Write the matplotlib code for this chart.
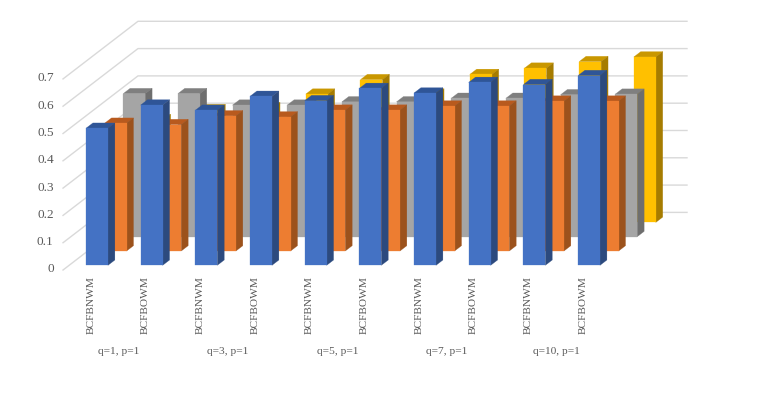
import matplotlib
matplotlib.use("Agg")
import matplotlib.pyplot as plt
from matplotlib.patches import Polygon

methods = ["BCFBNWM", "BCFBOWM"] * 5
groups = ["q=1, p=1", "q=3, p=1", "q=5, p=1", "q=7, p=1", "q=10, p=1"]
yticks = [0, 0.1, 0.2, 0.3, 0.4, 0.5, 0.6, 0.7]

# front to back
blue = [0.502, 0.587, 0.568, 0.619, 0.603, 0.648, 0.631, 0.670, 0.662, 0.695]
orange = [0.468, 0.463, 0.495, 0.491, 0.516, 0.516, 0.531, 0.531, 0.549, 0.549]
gray = [0.524, 0.524, 0.482, 0.482, 0.494, 0.494, 0.507, 0.507, 0.520, 0.522]
yellow = [0.376, 0.413, 0.420, 0.470, 0.523, 0.470, 0.542, 0.565, 0.589, 0.606]

series = [blue, orange, gray, yellow]
front_cols = ["#4472C4", "#ED7D31", "#A5A5A5", "#FFC000"]
side_cols = ["#2C4A7E", "#9C521C", "#6E6E6E", "#A67C00"]
top_cols = ["#2F5597", "#B85A1E", "#7F7F7F", "#C99700"]

# oblique projection, one depth step moves this far in data units
dx = 18.6 / 54.67
dy = 14.3 / 273
bar_w = 22 / 54.67
bar_d = 0.37


def proj(x, v, d):
    return x + d * dx, v + d * dy


def quad(ax, pts, col, z):
    ax.add_patch(Polygon([proj(*p) for p in pts], closed=True, fc=col, ec=col, lw=0.2, zorder=z))


fig = plt.figure(figsize=(7.61, 3.96), dpi=100)
ax = fig.add_axes([0, 0, 1, 1])
ax.set_xlim(-86 / 54.67, (761 - 86) / 54.67)
ax.set_ylim(-130.7 / 273, 265.3 / 273)
ax.axis("off")

plt.rcParams["font.family"] = ["Liberation Serif", "DejaVu Serif"]
txt = "#595959"

# walls
x_left = -0.308
d_front = -0.33
d_back = 3.70
x_right = (687 - 86) / 54.67 - d_back * dx
for v in yticks:
    ax.plot(*zip(proj(x_left, v, d_front), proj(x_left, v, d_back), proj(x_right, v, d_back)),
            color="#D9D9D9", lw=1, zorder=1)
    tx, ty = proj(x_left, v, d_front)
    ax.text(tx - 0.17, ty + 0.002, str(v), ha="right", va="center", fontsize=9.5, color=txt)

# bars, painted from the back row forward
z = 2
for s in range(3, -1, -1):
    for i, v in enumerate(series[s]):
        x0, x1 = i, i + bar_w
        d0, d1 = s, s + bar_d
        quad(ax, [(x0, v, d0), (x0, v, d1), (x1, v, d1), (x1, v, d0)], top_cols[s], z)
        quad(ax, [(x1, 0, d0), (x1, 0, d1), (x1, v, d1), (x1, v, d0)], side_cols[s], z)
        quad(ax, [(x0, 0, d0), (x1, 0, d0), (x1, v, d0), (x0, v, d0)], front_cols[s], z)
        z += 1

for i, m in enumerate(methods):
    ax.text(i + 0.09, -0.04, m, rotation=90, ha="center", va="top", fontsize=8.2, color=txt)
for i, g in enumerate(groups):
    ax.text(2 * i + 0.6, -0.316, g, ha="center", va="center", fontsize=8.2, color=txt)

fig.savefig("out.png", dpi=100)
